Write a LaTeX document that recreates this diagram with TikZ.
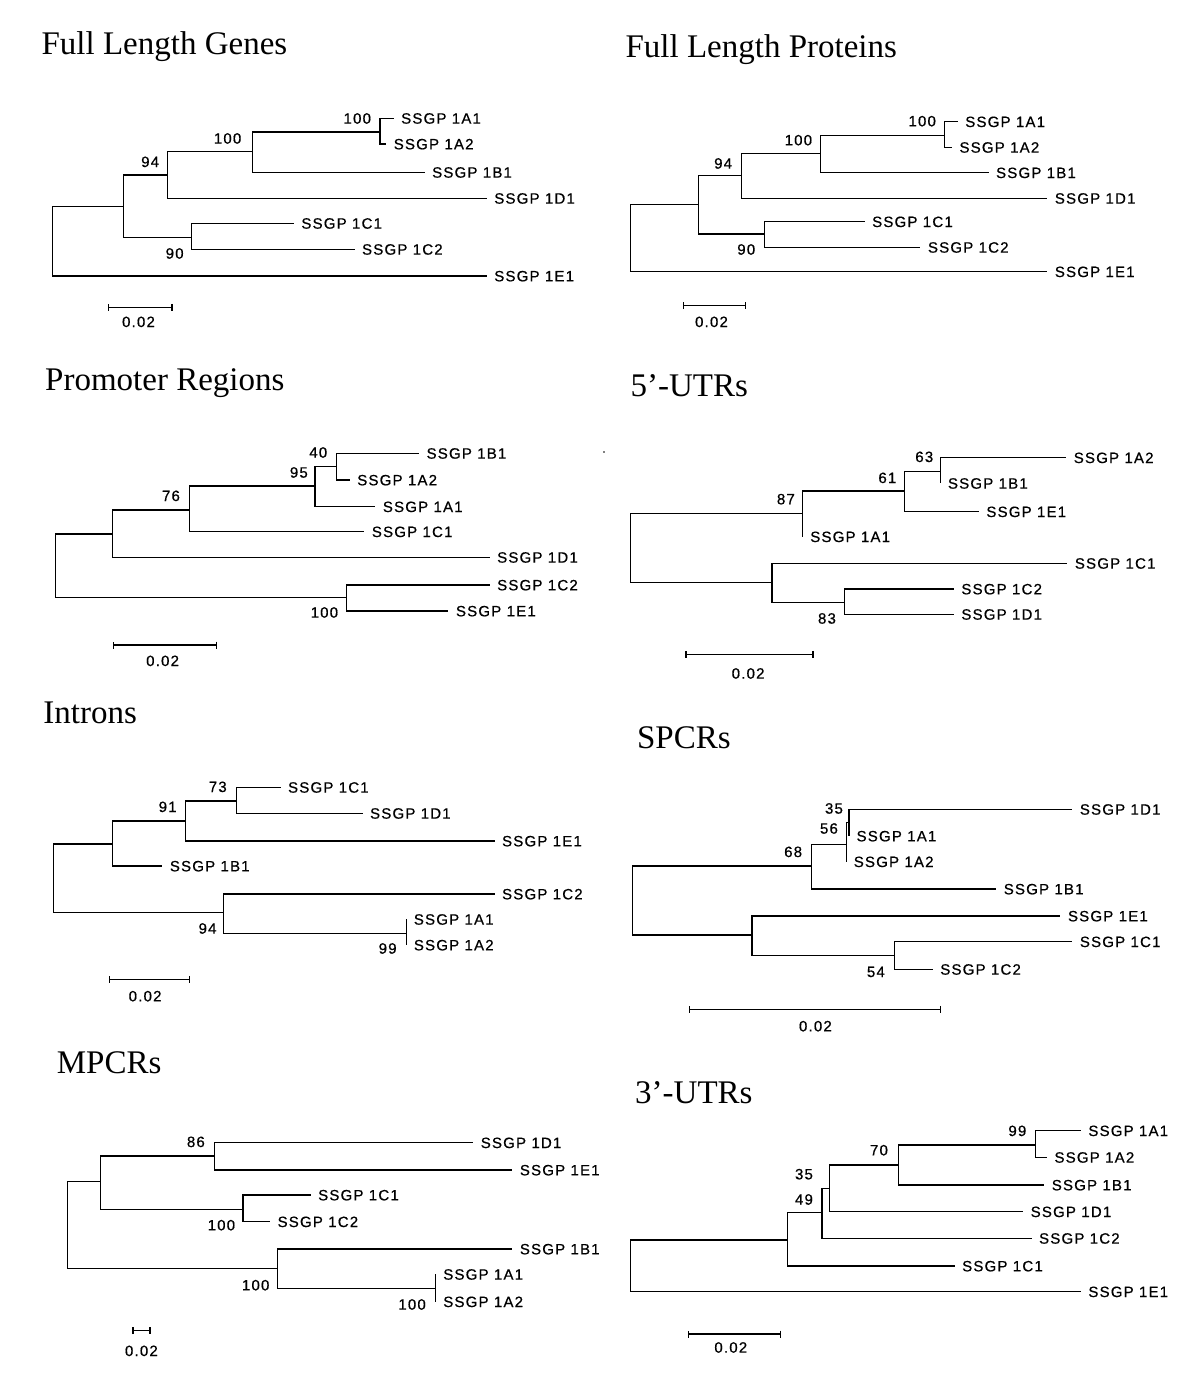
\documentclass[tikz,border=0pt]{standalone}
\usepackage{fontspec}
\setmainfont{Liberation Serif}
\newfontfamily\treefont[LetterSpace=8,FakeBold=0.6]{Liberation Sans}
\newcommand\lblfont{\treefont\fontsize{15}{17}\selectfont}
\newcommand\headfont{\fontsize{33}{38}\selectfont}
\usetikzlibrary{arrows.meta}

\begin{document}
\begin{tikzpicture}[x=1pt,y=-1pt,line width=1.2pt,
    leaf/.style={anchor=west,inner xsep=7pt,inner ysep=0pt,text height=10.7pt,text depth=0pt,font=\lblfont},
    boot/.style={anchor=east,inner sep=0pt,text height=10.7pt,text depth=0pt,font=\lblfont},
    scaletext/.style={inner sep=0pt,text height=10.7pt,text depth=0pt,font=\lblfont},
    title/.style={anchor=base west,inner sep=0pt,font=\headfont},
    scalebar/.style={{Bar[width=7pt]}-{Bar[width=7pt]}}]

    \fill[white] (0,0) rectangle (1200,1389);
    \useasboundingbox (0,0) rectangle (1200,1389);

    % Full Length Genes
    \node[title] (fgt) at (41,55) {Full Length Genes};
    \node[leaf] (fg1A1) at (393.6,118.3) {SSGP 1A1};
    \node[leaf] (fg1A2) at (386.2,144) {SSGP 1A2};
    \node[leaf] (fg1B1) at (424.6,172.3) {SSGP 1B1};
    \node[leaf] (fg1D1) at (486.7,198.3) {SSGP 1D1};
    \node[leaf] (fg1C1) at (293.8,223.3) {SSGP 1C1};
    \node[leaf] (fg1C2) at (354.5,249.3) {SSGP 1C2};
    \node[leaf] (fg1E1) at (486.7,276) {SSGP 1E1};
    \coordinate (fgr) at (52.7,241.3);
    \coordinate (fgu) at (123.2,206.7);
    \coordinate (fgn94) at (167.7,175);
    \coordinate (fgn100b) at (252.2,151.7);
    \coordinate (fgn100a) at (380,132);
    \coordinate (fgn90) at (191.5,237.3);
    \draw (fgr) |- (fgu);
    \draw (fgr) |- (fg1E1);
    \draw (fgu) |- (fgn94);
    \draw (fgu) |- (fgn90);
    \draw (fgn94) |- (fgn100b);
    \draw (fgn94) |- (fg1D1);
    \draw (fgn100b) |- (fgn100a);
    \draw (fgn100b) |- (fg1B1);
    \draw (fgn100a) |- (fg1A1);
    \draw (fgn100a) |- (fg1A2);
    \draw (fgn90) |- (fg1C1);
    \draw (fgn90) |- (fg1C2);
    \node[boot] (fgb1) at (371.6,118.3) {100};
    \node[boot] (fgb2) at (241.9,138.3) {100};
    \node[boot] (fgb3) at (159.7,161.7) {94};
    \node[boot] (fgb4) at (184.2,253.3) {90};
    \coordinate (fgs1) at (107.5,307.3);
    \coordinate (fgs2) at (172.5,307.3);
    \draw[scalebar] (fgs1) -- (fgs2);
    \node[scaletext] (fgs) at (138.5,321.7) {0.02};

    % Full Length Proteins
    \node[title] (fpt) at (625,57.3) {Full Length Proteins};
    \node[leaf] (fp1A1) at (957.7,121.7) {SSGP 1A1};
    \node[leaf] (fp1A2) at (951.9,147.3) {SSGP 1A2};
    \node[leaf] (fp1B1) at (988.5,172.7) {SSGP 1B1};
    \node[leaf] (fp1D1) at (1047.3,198.3) {SSGP 1D1};
    \node[leaf] (fp1C1) at (864.6,221.7) {SSGP 1C1};
    \node[leaf] (fp1C2) at (920.4,247.3) {SSGP 1C2};
    \node[leaf] (fp1E1) at (1047.3,271.7) {SSGP 1E1};
    \coordinate (fpr) at (630.8,238);
    \coordinate (fpu) at (698.1,204.3);
    \coordinate (fpn94) at (741.5,175.7);
    \coordinate (fpn100b) at (820.4,153.3);
    \coordinate (fpn100a) at (944.2,135.3);
    \coordinate (fpn90) at (764.6,234);
    \draw (fpr) |- (fpu);
    \draw (fpr) |- (fp1E1);
    \draw (fpu) |- (fpn94);
    \draw (fpu) |- (fpn90);
    \draw (fpn94) |- (fpn100b);
    \draw (fpn94) |- (fp1D1);
    \draw (fpn100b) |- (fpn100a);
    \draw (fpn100b) |- (fp1B1);
    \draw (fpn100a) |- (fp1A1);
    \draw (fpn100a) |- (fp1A2);
    \draw (fpn90) |- (fp1C1);
    \draw (fpn90) |- (fp1C2);
    \node[boot] (fpb1) at (936.5,121) {100};
    \node[boot] (fpb2) at (812.7,140) {100};
    \node[boot] (fpb3) at (732.7,163.3) {94};
    \node[boot] (fpb4) at (755.8,249.3) {90};
    \coordinate (fps1) at (682.7,305.7);
    \coordinate (fps2) at (746.2,305.7);
    \draw[scalebar] (fps1) -- (fps2);
    \node[scaletext] (fps) at (711.5,321.7) {0.02};

    % Promoter Regions
    \node[title] (prt) at (44.6,390) {Promoter Regions};
    \node[leaf] (pr1B1) at (419,453.3) {SSGP 1B1};
    \node[leaf] (pr1A2) at (349.7,480) {SSGP 1A2};
    \node[leaf] (pr1A1) at (375.3,506.7) {SSGP 1A1};
    \node[leaf] (pr1C1) at (364.3,531.7) {SSGP 1C1};
    \node[leaf] (pr1D1) at (489.6,557.3) {SSGP 1D1};
    \node[leaf] (pr1C2) at (489.6,585) {SSGP 1C2};
    \node[leaf] (pr1E1) at (448.4,611) {SSGP 1E1};
    \coordinate (prr) at (55.6,565.9);
    \coordinate (pru) at (112.2,534);
    \coordinate (prn76) at (189.7,510);
    \coordinate (prn95) at (315,486);
    \coordinate (prn40) at (336.2,466.7);
    \coordinate (prn100) at (346.1,597.7);
    \draw (prr) |- (pru);
    \draw (prr) |- (prn100);
    \draw (pru) |- (prn76);
    \draw (pru) |- (pr1D1);
    \draw (prn76) |- (prn95);
    \draw (prn76) |- (pr1C1);
    \draw (prn95) |- (prn40);
    \draw (prn95) |- (pr1A1);
    \draw (prn40) |- (pr1B1);
    \draw (prn40) |- (pr1A2);
    \draw (prn100) |- (pr1C2);
    \draw (prn100) |- (pr1E1);
    \node[boot] (prb1) at (327.8,452.3) {40};
    \node[boot] (prb2) at (308.4,472.3) {95};
    \node[boot] (prb3) at (180.5,495.7) {76};
    \node[boot] (prb4) at (338.7,612.3) {100};
    \coordinate (prs1) at (112.9,645);
    \coordinate (prs2) at (217.4,645);
    \draw[scalebar] (prs1) -- (prs2);
    \node[scaletext] (prs) at (162.6,660.7) {0.02};

    % 5'-UTRs
    \node[title] (fut) at (630,396.7) {5’-UTRs};
    \fill (604,452) circle (0.8pt);
    \node[leaf] (fu1A2) at (1066.2,457.7) {SSGP 1A2};
    \node[leaf] (fu1B1) at (940.4,483.3) {SSGP 1B1};
    \node[leaf] (fu1E1) at (978.8,511.7) {SSGP 1E1};
    \node[leaf] (fu1A1) at (802.7,536.7) {SSGP 1A1};
    \node[leaf] (fu1C1) at (1067.3,563.3) {SSGP 1C1};
    \node[leaf] (fu1C2) at (953.8,589) {SSGP 1C2};
    \node[leaf] (fu1D1) at (953.8,614.3) {SSGP 1D1};
    \coordinate (fur) at (630.8,547.8);
    \coordinate (fun87) at (802.7,513.3);
    \coordinate (fun61) at (904.6,491);
    \coordinate (fun63) at (940.4,471.7);
    \coordinate (fuu) at (771.9,582.3);
    \coordinate (fun83) at (844.2,602.3);
    \draw (fur) |- (fun87);
    \draw (fur) |- (fuu);
    \draw (fun87) |- (fun61);
    \draw (fun87) |- (fu1A1);
    \draw (fun61) |- (fun63);
    \draw (fun61) |- (fu1E1);
    \draw (fun63) |- (fu1A2);
    \draw (fun63) |- (fu1B1);
    \draw (fuu) |- (fu1C1);
    \draw (fuu) |- (fun83);
    \draw (fun83) |- (fu1C2);
    \draw (fun83) |- (fu1D1);
    \node[boot] (fub1) at (933.8,456.7) {63};
    \node[boot] (fub2) at (896.9,477.7) {61};
    \node[boot] (fub3) at (795.4,499) {87};
    \node[boot] (fub4) at (836.5,618.3) {83};
    \coordinate (fus1) at (685.4,654.3);
    \coordinate (fus2) at (813.5,654.3);
    \draw[scalebar] (fus1) -- (fus2);
    \node[scaletext] (fus) at (748.1,673.3) {0.02};

    % Introns
    \node[title] (int) at (42.8,723.3) {Introns};
    \node[leaf] (in1C1) at (280.5,787.3) {SSGP 1C1};
    \node[leaf] (in1D1) at (362.5,813.3) {SSGP 1D1};
    \node[leaf] (in1E1) at (494.5,841) {SSGP 1E1};
    \node[leaf] (in1B1) at (162.3,866) {SSGP 1B1};
    \node[leaf] (in1C2) at (494.5,894) {SSGP 1C2};
    \node[leaf] (in1A1) at (406.3,919.3) {SSGP 1A1};
    \node[leaf] (in1A2) at (406.3,945) {SSGP 1A2};
    \coordinate (inr) at (53.7,878.2);
    \coordinate (inu) at (112.2,844);
    \coordinate (inn91) at (185.3,821);
    \coordinate (inn73) at (236.4,801);
    \coordinate (inn94) at (223.7,912.3);
    \coordinate (inn99) at (406.3,933.3);
    \draw (inr) |- (inu);
    \draw (inr) |- (inn94);
    \draw (inu) |- (inn91);
    \draw (inu) |- (in1B1);
    \draw (inn91) |- (inn73);
    \draw (inn91) |- (in1E1);
    \draw (inn73) |- (in1C1);
    \draw (inn73) |- (in1D1);
    \draw (inn94) |- (in1C2);
    \draw (inn94) |- (inn99);
    \draw (inn99) |- (in1A1);
    \draw (inn99) |- (in1A2);
    \node[boot] (inb1) at (227.3,786.7) {73};
    \node[boot] (inb2) at (177.2,806.7) {91};
    \node[boot] (inb3) at (217.1,928.3) {94};
    \node[boot] (inb4) at (397.2,948.3) {99};
    \coordinate (ins1) at (108.6,979.3);
    \coordinate (ins2) at (190,979.3);
    \draw[scalebar] (ins1) -- (ins2);
    \node[scaletext] (ins) at (145.1,996) {0.02};

    % SPCRs
    \node[title] (spt) at (636.5,748.3) {SPCRs};
    \node[leaf] (sp1D1) at (1072.3,809.3) {SSGP 1D1};
    \node[leaf] (sp1A1) at (849,836) {SSGP 1A1};
    \node[leaf] (sp1A2) at (846.2,861.7) {SSGP 1A2};
    \node[leaf] (sp1B1) at (996.2,889) {SSGP 1B1};
    \node[leaf] (sp1E1) at (1060.4,916) {SSGP 1E1};
    \node[leaf] (sp1C1) at (1072.3,941.7) {SSGP 1C1};
    \node[leaf] (sp1C2) at (932.7,969.3) {SSGP 1C2};
    \coordinate (spr) at (632.7,900.5);
    \coordinate (spn68) at (811.5,866);
    \coordinate (spn56) at (846.2,844.3);
    \coordinate (spn35) at (849,822.7);
    \coordinate (spu) at (751.9,935);
    \coordinate (spn54) at (894.2,955.7);
    \draw (spr) |- (spn68);
    \draw (spr) |- (spu);
    \draw (spn68) |- (spn56);
    \draw (spn68) |- (sp1B1);
    \draw (spn56) |- (spn35);
    \draw (spn56) |- (sp1A2);
    \draw (spn35) |- (sp1D1);
    \draw (spn35) |- (sp1A1);
    \draw (spu) |- (sp1E1);
    \draw (spu) |- (spn54);
    \draw (spn54) |- (sp1C1);
    \draw (spn54) |- (sp1C2);
    \node[boot] (spb1) at (843.5,808.3) {35};
    \node[boot] (spb2) at (838.5,828.3) {56};
    \node[boot] (spb3) at (802.7,851.7) {68};
    \node[boot] (spb4) at (885.4,971.7) {54};
    \coordinate (sps1) at (689.2,1009.3);
    \coordinate (sps2) at (941.2,1009.3);
    \draw[scalebar] (sps1) -- (sps2);
    \node[scaletext] (sps) at (815.4,1026) {0.02};

    % MPCRs
    \node[title] (mpt) at (56.3,1073.3) {MPCRs};
    \node[leaf] (mp1D1) at (473.2,1142.7) {SSGP 1D1};
    \node[leaf] (mp1E1) at (512.3,1170) {SSGP 1E1};
    \node[leaf] (mp1C1) at (310.6,1195) {SSGP 1C1};
    \node[leaf] (mp1C2) at (270,1221.7) {SSGP 1C2};
    \node[leaf] (mp1B1) at (512.3,1249) {SSGP 1B1};
    \node[leaf] (mp1A1) at (435.7,1274.3) {SSGP 1A1};
    \node[leaf] (mp1A2) at (435.7,1301.7) {SSGP 1A2};
    \coordinate (mpr) at (67.6,1225);
    \coordinate (mpu) at (100.2,1181.7);
    \coordinate (mpn86) at (214.5,1156);
    \coordinate (mpn100a) at (243,1209.3);
    \coordinate (mpn100b) at (277.7,1268.3);
    \coordinate (mpn100c) at (435.7,1288.3);
    \draw (mpr) |- (mpu);
    \draw (mpr) |- (mpn100b);
    \draw (mpu) |- (mpn86);
    \draw (mpu) |- (mpn100a);
    \draw (mpn86) |- (mp1D1);
    \draw (mpn86) |- (mp1E1);
    \draw (mpn100a) |- (mp1C1);
    \draw (mpn100a) |- (mp1C2);
    \draw (mpn100b) |- (mp1B1);
    \draw (mpn100b) |- (mpn100c);
    \draw (mpn100c) |- (mp1A1);
    \draw (mpn100c) |- (mp1A2);
    \node[boot] (mpb1) at (205.4,1141.7) {86};
    \node[boot] (mpb2) at (235.7,1225) {100};
    \node[boot] (mpb3) at (270,1285) {100};
    \node[boot] (mpb4) at (426.4,1304.3) {100};
    \coordinate (mps1) at (132.3,1330.7);
    \coordinate (mps2) at (150.6,1330.7);
    \draw[scalebar] (mps1) -- (mps2);
    \node[scaletext] (mps) at (141.4,1350.7) {0.02};

    % 3'-UTRs
    \node[title] (tut) at (634.6,1103.3) {3’-UTRs};
    \node[leaf] (tu1A1) at (1080.8,1130.7) {SSGP 1A1};
    \node[leaf] (tu1A2) at (1046.9,1157.3) {SSGP 1A2};
    \node[leaf] (tu1B1) at (1044.2,1185) {SSGP 1B1};
    \node[leaf] (tu1D1) at (1023.1,1211.7) {SSGP 1D1};
    \node[leaf] (tu1C2) at (1031.5,1238.3) {SSGP 1C2};
    \node[leaf] (tu1C1) at (954.6,1266) {SSGP 1C1};
    \node[leaf] (tu1E1) at (1080.8,1291.7) {SSGP 1E1};
    \coordinate (tur) at (630.8,1265.9);
    \coordinate (tuu) at (787.7,1240);
    \coordinate (tun49) at (821.9,1212.7);
    \coordinate (tun35) at (829.6,1188.3);
    \coordinate (tun70) at (898.1,1165);
    \coordinate (tun99) at (1035.8,1145);
    \draw (tur) |- (tuu);
    \draw (tur) |- (tu1E1);
    \draw (tuu) |- (tun49);
    \draw (tuu) |- (tu1C1);
    \draw (tun49) |- (tun35);
    \draw (tun49) |- (tu1C2);
    \draw (tun35) |- (tun70);
    \draw (tun35) |- (tu1D1);
    \draw (tun70) |- (tun99);
    \draw (tun70) |- (tu1B1);
    \draw (tun99) |- (tu1A1);
    \draw (tun99) |- (tu1A2);
    \node[boot] (tub1) at (1026.9,1130.7) {99};
    \node[boot] (tub2) at (888.5,1150) {70};
    \node[boot] (tub3) at (813.5,1174) {35};
    \node[boot] (tub4) at (813.5,1199.3) {49};
    \coordinate (tus1) at (687.7,1334);
    \coordinate (tus2) at (780.8,1334);
    \draw[scalebar] (tus1) -- (tus2);
    \node[scaletext] (tus) at (730.8,1347.3) {0.02};

\end{tikzpicture}
\end{document}
